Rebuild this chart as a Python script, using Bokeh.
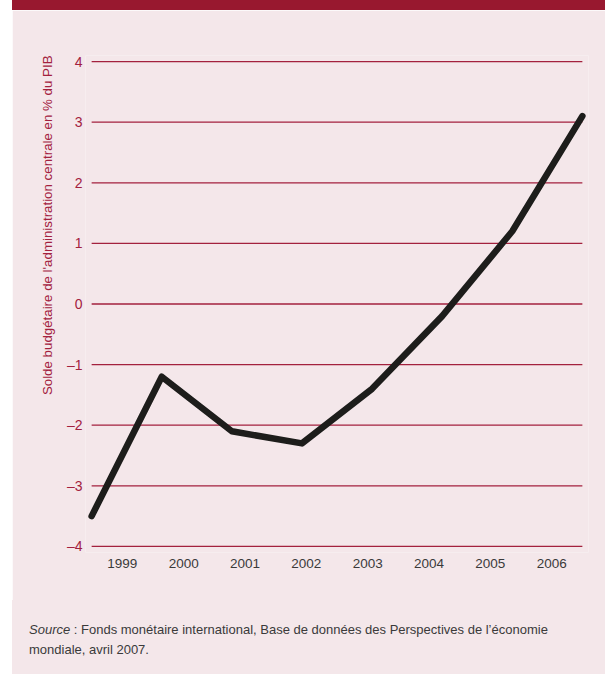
from bokeh.plotting import figure
from bokeh.models import Div, Spacer, FixedTicker, Title
from bokeh.layouts import row, column
from bokeh.embed import file_html
from bokeh.resources import INLINE

# ---- data ----
years = [1999, 2000, 2001, 2002, 2003, 2004, 2005, 2006]
values = [-3.5, -1.2, -2.1, -2.3, -1.4, -0.2, 1.2, 3.1]
yticks = [-4, -3, -2, -1, 0, 1, 2, 3, 4]
ytick_labels = ["–4", "–3", "–2", "–1", "0", "1", "2", "3", "4"]
ylabel = "Solde budgétaire de l'administration centrale en % du PIB"
source_html = ("<i>Source</i> : Fonds monétaire international, Base de données des "
               "Perspectives de l’économie<br>mondiale, avril 2007.")

FONT = "Liberation Sans"
PINK = "#f4e7ea"
BAND = "#98182f"
RED = "#a3213e"
TXT = "#3a3a3a"

n = len(years)
# year labels sit at integer positions (centres of n bins); the line spans the bins' outer edges
xs = [-0.5 + k * n / (n - 1) for k in range(n)]
tick_pos = list(range(n))

p = figure(frame_width=503, frame_height=497,
           x_range=(-0.6, n - 1 + 0.6), y_range=(-4.1, 4.1),
           output_backend="svg", toolbar_location=None,
           min_border_left=73, min_border_right=17,
           min_border_top=45, min_border_bottom=48, margin=0)
p.background_fill_color = PINK
p.border_fill_color = PINK
p.outline_line_color = None
p.grid.visible = False

# horizontal rules
p.segment(x0=[xs[0]] * len(yticks), x1=[xs[-1]] * len(yticks), y0=yticks, y1=yticks,
          line_color=RED, line_width=1.3)

p.line(xs, values, line_color="#1d1d1b", line_width=6.5,
       line_join="round", line_cap="round")

# axes
ya = p.yaxis[0]
ya.ticker = FixedTicker(ticks=yticks)
ya.major_label_overrides = {t: l for t, l in zip(yticks, ytick_labels)}
ya.axis_line_color = None
ya.major_tick_line_color = None
ya.minor_tick_line_color = None
ya.major_tick_out = 0
ya.major_label_standoff = 3
ya.major_label_text_font = FONT
ya.major_label_text_font_size = "14px"
ya.major_label_text_color = RED

xa = p.xaxis[0]
xa.ticker = FixedTicker(ticks=tick_pos)
xa.major_label_overrides = {t: str(y) for t, y in zip(tick_pos, years)}
xa.axis_line_color = None
xa.major_tick_line_color = None
xa.minor_tick_line_color = None
xa.major_tick_out = 0
xa.major_label_standoff = 6
xa.major_label_text_font = FONT
xa.major_label_text_font_size = "13.5px"
xa.major_label_text_color = TXT

p.add_layout(Title(text=ylabel, align="right", text_font=FONT, text_font_size="13.3px",
                   text_font_style="normal", text_color=RED, standoff=18), "left")

band = Div(text="", width=593, height=10, margin=0, styles={"background-color": BAND})
src = Div(text=f'<div style="padding:20px 0 0 17px; font-family:\'{FONT}\'; font-size:13px; '
               f'line-height:20px; color:{TXT}; white-space:nowrap;">{source_html}</div>',
          width=593, height=74, margin=0, styles={"background-color": PINK})

layout = row(Spacer(width=12, height=10, margin=0), column(band, p, src, margin=0, spacing=0),
             margin=0, spacing=0)

open("out.html", "w").write(file_html(layout, INLINE))
